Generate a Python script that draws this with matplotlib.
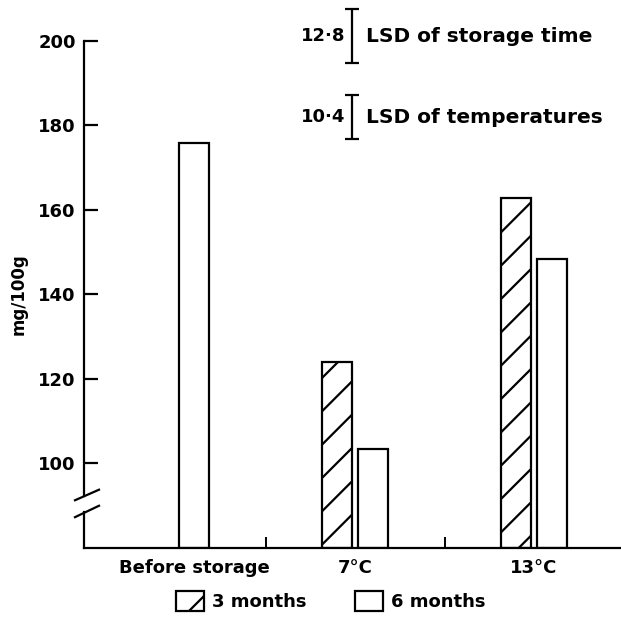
import numpy as np
import matplotlib
matplotlib.use("Agg")
from matplotlib import pyplot as plt
from matplotlib.patches import Patch
import matplotlib.transforms as mtrans

# values (mg/100g)
categories = ["Before storage", "7°C", "13°C"]
three_months = [np.nan, 124.0, 162.9]
six_months = [175.8, 103.4, 148.4]
lsd_values = [12.8, 10.4]
lsd_labels = ["12·8", "10·4"]
lsd_names = ["LSD of storage time", "LSD of temperatures"]
lsd_centres = [201.1, 182.0]
yticks = [100, 120, 140, 160, 180, 200]

plt.rcParams["font.family"] = "DejaVu Sans"
plt.rcParams["font.weight"] = "bold"
plt.rcParams["hatch.linewidth"] = 1.6

W, H = 621, 619
fig = plt.figure(figsize=(W / 100, H / 100), dpi=100)
ax = fig.add_axes([84 / W, 71 / H, (W - 84) / W, 549.25 / H])

group_x = np.array([0.1, 1.0, 2.0])
width = 0.168
off = 0.1

for i, cat in enumerate(categories):
    if np.isnan(three_months[i]):
        ax.bar(group_x[i], six_months[i] - 80, bottom=80, width=width,
               facecolor="white", edgecolor="black", linewidth=1.6)
    else:
        ax.bar(group_x[i] - off, three_months[i] - 80, bottom=80, width=width,
               facecolor="white", edgecolor="black", hatch="/", linewidth=1.6)
        ax.bar(group_x[i] + off, six_months[i] - 80, bottom=80, width=width,
               facecolor="white", edgecolor="black", linewidth=1.6)

ax.set_xlim(-0.514, 2.486)
ax.set_ylim(80, 210)

# spines
for s in ["top", "right", "left"]:
    ax.spines[s].set_visible(False)
ax.spines["bottom"].set_linewidth(1.6)

# left axis drawn by hand with the break
bt = mtrans.blended_transform_factory(ax.transAxes, ax.transData)
ax.plot([0, 0], [80, 88.6], color="black", lw=1.6, transform=bt, clip_on=False)
ax.plot([0, 0], [92.4, 200], color="black", lw=1.6, transform=bt, clip_on=False)
px = 1 / (W - 84)
ax.plot([-9 * px, 15 * px], [91.3, 93.8], color="black", lw=1.6, transform=bt, clip_on=False)
ax.plot([-9 * px, 15 * px], [87.3, 90.0], color="black", lw=1.6, transform=bt, clip_on=False)

ax.set_yticks(yticks)
ax.set_yticklabels([str(t) for t in yticks], fontsize=13, fontweight="bold")
ax.tick_params(axis="y", direction="in", length=10, width=1.6, pad=6)

ax.set_xticks(group_x)
ax.set_xticklabels(categories, fontsize=13, fontweight="bold")
ax.tick_params(axis="x", length=0, pad=8)
ax.set_xticks([0.5, 1.5], minor=True)
ax.tick_params(axis="x", which="minor", direction="in", length=8, width=1.4)

ax.text(-65 * px, 140, "mg/100g", transform=bt, rotation=90, ha="center", va="center",
        fontsize=12, fontweight="bold")

# LSD bars
for val, lab, name, c in zip(lsd_values, lsd_labels, lsd_names, lsd_centres):
    ax.errorbar(0.985, c, yerr=val / 2, color="black", lw=1.6, capsize=4.7,
                capthick=1.6, clip_on=False)
    ax.annotate(lab, (0.985, c), xytext=(-5, 0), textcoords="offset points",
                ha="right", va="center", fontsize=13, fontweight="bold")
    ax.annotate(name, (0.985, c), xytext=(10, 0), textcoords="offset points",
                ha="left", va="center", fontsize=14.5, fontweight="bold")

handles = [Patch(facecolor="white", edgecolor="black", hatch="/", linewidth=1.6, label="3 months"),
           Patch(facecolor="white", edgecolor="black", linewidth=1.6, label="6 months")]
fig.legend(handles=handles, loc="center", bbox_to_anchor=(331 / W, 18 / H), ncol=2,
           frameon=False, handlelength=1.55, handleheight=1.4,
           handletextpad=0.45, columnspacing=2.7, prop={"weight": "bold", "size": 13})

fig.savefig("out.png", dpi=100)
